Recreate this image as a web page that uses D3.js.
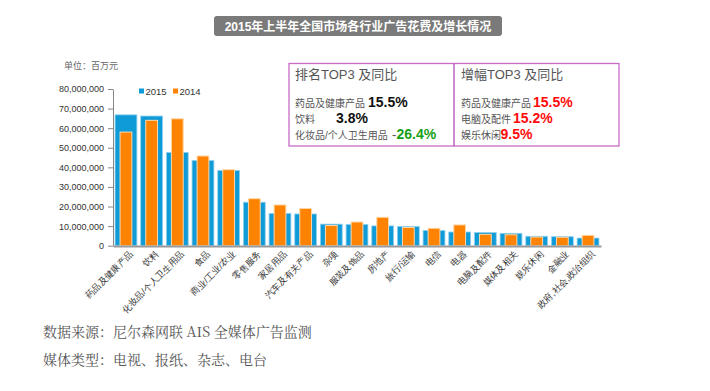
<!DOCTYPE html>
<html><head><meta charset="utf-8">
<script src="https://cdn.jsdelivr.net/npm/d3@7"></script>
<style>
html,body{margin:0;padding:0;background:#fff;}
svg{display:block;font-family:"Liberation Sans","Noto Sans CJK SC",sans-serif;}
</style></head>
<body><svg id="c" width="710" height="391"></svg>
<script>
const categories = ["药品及健康产品","饮料","化妆品/个人卫生用品","食品","商业/工业/农业","零售服务","家居用品","汽车及有关产品","杂项","服装及饰品","房地产","旅行/运输","电信","电器","电脑及配件","媒体及相关","娱乐休闲","金融业","政府,社会,政治组织"];
const values2015 = [66.8,66.2,47.6,43.5,38.4,22.2,16.5,16.2,11.0,10.8,10.1,9.8,7.8,7.0,6.7,6.3,4.8,4.6,3.9].map(v=>v*1e6);
const values2014 = [58.0,64.0,64.8,45.8,38.8,24.0,20.8,19.0,10.3,12.1,14.5,9.3,8.9,10.6,5.8,5.6,4.4,4.3,5.3].map(v=>v*1e6);
const yTicks = [0,10e6,20e6,30e6,40e6,50e6,60e6,70e6,80e6];
const seriesNames = ["2015","2014"];
const rankItems = [["药品及健康产品","15.5%"],["饮料","3.8%"],["化妆品/个人卫生用品","26.4%"]];
const growthItems = [["药品及健康产品","15.5%"],["电脑及配件","15.2%"],["娱乐休闲","9.5%"]];

const BLUE="#0f9bd7", ORANGE="#ff8300";
const svg = d3.select("#c");

// title
svg.append("rect").attr("x",214).attr("y",16).attr("width",288).attr("height",20).attr("rx",3).attr("fill","#7a7a7a");
svg.append("text").attr("x",358).attr("y",30.5).attr("text-anchor","middle").attr("fill","#fff")
  .attr("font-size",12).attr("font-weight","bold").text("2015年上半年全国市场各行业广告花费及增长情况");

svg.append("text").attr("x",64).attr("y",69).attr("font-size",9).attr("fill","#666").text("单位：百万元");

const x = d3.scaleBand().domain(categories).range([113,601]).paddingInner(0.15).paddingOuter(0.08);
const y = d3.scaleLinear().domain([0,80e6]).range([245.7,89]);

// y axis
const ya = svg.append("g").attr("transform","translate(113,0)")
  .call(d3.axisLeft(y).tickValues(yTicks).tickFormat(d3.format(",")).tickSize(5).tickSizeOuter(0));
ya.select(".domain").attr("stroke","#888");
ya.selectAll(".tick line").attr("stroke","#888");
ya.selectAll(".tick text").attr("font-size",9).attr("fill","#333").attr("x",-9)
  .attr("font-family","'Liberation Sans',sans-serif");

const bw = x.bandwidth(), ow = bw*0.54;
svg.append("g").selectAll("rect").data(categories).join("rect")
  .attr("x",d=>x(d)).attr("width",bw)
  .attr("y",(d,i)=>y(values2015[i])).attr("height",(d,i)=>y(0)-y(values2015[i]))
  .attr("fill",BLUE).attr("stroke","#8fd0ee").attr("stroke-width",0.8);
svg.append("g").selectAll("rect").data(categories).join("rect")
  .attr("x",d=>x(d)+(bw-ow)/2).attr("width",ow)
  .attr("y",(d,i)=>y(values2014[i])).attr("height",(d,i)=>y(0)-y(values2014[i]))
  .attr("fill",ORANGE).attr("stroke","#ffd7a8").attr("stroke-width",1);

// x axis
const xa = svg.append("g").attr("transform","translate(0,246)")
  .call(d3.axisBottom(x).tickSize(0).tickSizeOuter(0));
xa.select(".domain").attr("stroke","#999").attr("stroke-width",2);
xa.selectAll(".tick text").attr("font-size",9).attr("fill","#333").attr("text-anchor","end")
  .attr("transform","translate(3,4) rotate(-45)").attr("dy","0.7em").attr("y",0).attr("x",0);

// legend
const lg = svg.append("g");
[[139,BLUE,0],[173,ORANGE,1]].forEach(([lx,c,i])=>{
  lg.append("rect").attr("x",lx).attr("y",88.5).attr("width",5).attr("height",5).attr("fill",c);
  lg.append("text").attr("x",lx+6.5).attr("y",94.5).attr("font-size",9.5).attr("fill","#333").text(seriesNames[i]);
});

// info box
const box = svg.append("g");
box.append("rect").attr("x",289).attr("y",63.5).attr("width",330).attr("height",82.5)
  .attr("fill","none").attr("stroke","#c86cc8").attr("stroke-width",1.3);
box.append("line").attr("x1",454).attr("x2",454).attr("y1",63.5).attr("y2",146)
  .attr("stroke","#b050b8").attr("stroke-width",1.3);
box.append("text").attr("x",295).attr("y",79).attr("font-size",13).attr("fill","#555").text("排名TOP3 及同比");
box.append("text").attr("x",461).attr("y",79).attr("font-size",13).attr("fill","#555").text("增幅TOP3 及同比");

const rowsY=[107,123,138.5];
const rankX=[368,336,396.5];
rankItems.forEach((r,i)=>{
  box.append("text").attr("x",295).attr("y",rowsY[i]).attr("font-size",10).attr("fill","#555").text(r[0]);
  if(i===2) box.append("text").attr("x",392).attr("y",rowsY[i]).attr("font-size",13).attr("fill","#555").text("-");
  box.append("text").attr("x",rankX[i]).attr("y",rowsY[i]).attr("font-size",14).attr("font-weight","bold")
    .attr("fill",i===2?"#18a018":"#111").text(r[1]);
});
const growX=[533,513,500.5];
growthItems.forEach((r,i)=>{
  box.append("text").attr("x",461).attr("y",rowsY[i]).attr("font-size",10).attr("fill","#555").text(r[0]);
  box.append("text").attr("x",growX[i]).attr("y",rowsY[i]).attr("font-size",14).attr("font-weight","bold")
    .attr("fill","#ff0a0a").text(r[1]);
});

// footer
svg.append("text").attr("x",43).attr("y",337).attr("font-size",14).attr("fill","#555")
  .attr("font-family","'Noto Serif CJK SC','Noto Sans CJK SC',serif").text("数据来源：尼尔森网联 AIS 全媒体广告监测");
svg.append("text").attr("x",43).attr("y",365).attr("font-size",14).attr("fill","#555")
  .attr("font-family","'Noto Serif CJK SC','Noto Sans CJK SC',serif").text("媒体类型：电视、报纸、杂志、电台");
</script></body></html>
